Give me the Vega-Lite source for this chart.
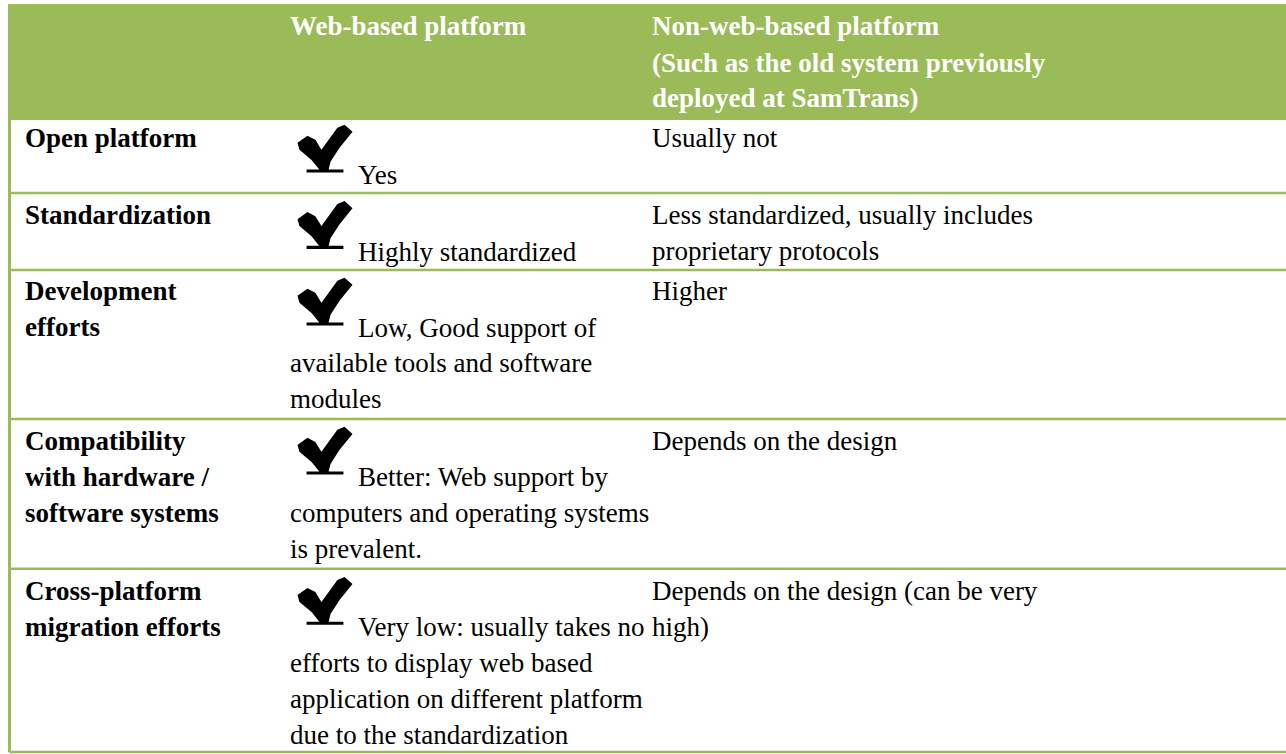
{
  "$schema": "https://vega.github.io/schema/vega-lite/v6.json",
  "width": 1286,
  "height": 754,
  "padding": 0,
  "autosize": {"type": "none"},
  "background": "white",
  "config": {"view": {"stroke": null}},
  "datasets": {
    "rows": [
      {"row": "header", "top": 0.11, "bottom": 3.33},
      {"row": "Open platform", "top": 3.33, "bottom": 5.36},
      {"row": "Standardization", "top": 5.36, "bottom": 7.5},
      {"row": "Development efforts", "top": 7.5, "bottom": 11.64},
      {"row": "Compatibility", "top": 11.64, "bottom": 15.8},
      {"row": "Cross-platform", "top": 15.8, "bottom": 20.89}
    ],
    "checks": [
      {"row": "Open platform", "line": 4.19},
      {"row": "Standardization", "line": 6.31},
      {"row": "Development efforts", "line": 8.44},
      {"row": "Compatibility", "line": 12.58},
      {"row": "Cross-platform", "line": 16.75}
    ],
    "cells": [
      {"row": "header", "col": 2, "line": 0.97, "style": "header", "text": "Web-based platform"},
      {"row": "header", "col": 3, "line": 0.97, "style": "header", "text": "Non-web-based platform"},
      {"row": "header", "col": 3, "line": 1.99, "style": "header", "text": "(Such as the old system previously"},
      {"row": "header", "col": 3, "line": 2.97, "style": "header", "text": "deployed at SamTrans)"},

      {"row": "Open platform", "col": 1, "line": 4.08, "style": "label", "text": "Open platform"},
      {"row": "Open platform", "col": 2, "line": 5.11, "style": "afterIcon", "text": "Yes"},
      {"row": "Open platform", "col": 3, "line": 4.08, "style": "body", "text": "Usually not"},

      {"row": "Standardization", "col": 1, "line": 6.22, "style": "label", "text": "Standardization"},
      {"row": "Standardization", "col": 2, "line": 7.25, "style": "afterIcon", "text": "Highly standardized"},
      {"row": "Standardization", "col": 3, "line": 6.22, "style": "body", "text": "Less standardized, usually includes"},
      {"row": "Standardization", "col": 3, "line": 7.22, "style": "body", "text": "proprietary protocols"},

      {"row": "Development efforts", "col": 1, "line": 8.33, "style": "label", "text": "Development"},
      {"row": "Development efforts", "col": 1, "line": 9.33, "style": "label", "text": "efforts"},
      {"row": "Development efforts", "col": 2, "line": 9.36, "style": "afterIcon", "text": "Low, Good support of"},
      {"row": "Development efforts", "col": 2, "line": 10.33, "style": "body", "text": "available tools and software"},
      {"row": "Development efforts", "col": 2, "line": 11.33, "style": "body", "text": "modules"},
      {"row": "Development efforts", "col": 3, "line": 8.33, "style": "body", "text": "Higher"},

      {"row": "Compatibility", "col": 1, "line": 12.5, "style": "label", "text": "Compatibility"},
      {"row": "Compatibility", "col": 1, "line": 13.5, "style": "label", "text": "with hardware /"},
      {"row": "Compatibility", "col": 1, "line": 14.5, "style": "label", "text": "software systems"},
      {"row": "Compatibility", "col": 2, "line": 13.5, "style": "afterIcon", "text": "Better: Web support by"},
      {"row": "Compatibility", "col": 2, "line": 14.5, "style": "body", "text": "computers and operating systems"},
      {"row": "Compatibility", "col": 2, "line": 15.5, "style": "body", "text": "is prevalent."},
      {"row": "Compatibility", "col": 3, "line": 12.5, "style": "body", "text": "Depends on the design"},

      {"row": "Cross-platform", "col": 1, "line": 16.67, "style": "label", "text": "Cross-platform"},
      {"row": "Cross-platform", "col": 1, "line": 17.67, "style": "label", "text": "migration efforts"},
      {"row": "Cross-platform", "col": 2, "line": 17.67, "style": "afterIcon", "text": "Very low: usually takes no"},
      {"row": "Cross-platform", "col": 2, "line": 18.67, "style": "body", "text": "efforts to display web based"},
      {"row": "Cross-platform", "col": 2, "line": 19.67, "style": "body", "text": "application on different platform"},
      {"row": "Cross-platform", "col": 2, "line": 20.67, "style": "body", "text": "due to the standardization"},
      {"row": "Cross-platform", "col": 3, "line": 16.67, "style": "body", "text": "Depends on the design (can be very"},
      {"row": "Cross-platform", "col": 3, "line": 17.67, "style": "body", "text": "high)"}
    ]
  },
  "layer": [
    {
      "data": {"name": "rows"},
      "transform": [{"filter": "datum.row === 'header'"}],
      "mark": {"type": "rect", "color": "#9BBB59"},
      "encoding": {
        "x": {"datum": 0, "type": "quantitative", "scale": {"domain": [0, 1, 2, 3, 4], "range": [9.5, 25, 290, 652, 1286], "nice": false, "zero": false}, "axis": null},
        "x2": {"datum": 4},
        "y": {"field": "top", "type": "quantitative", "scale": {"domain": [0, 20.944], "range": [0, 754], "nice": false, "zero": false}, "axis": null},
        "y2": {"field": "bottom"}
      }
    },
    {
      "data": {"name": "rows"},
      "transform": [{"filter": "datum.row !== 'header'"}],
      "mark": {"type": "rule", "color": "#9BBB59", "strokeWidth": 2.5},
      "encoding": {
        "x": {"datum": 0, "type": "quantitative", "scale": {"domain": [0, 1, 2, 3, 4], "range": [9.5, 25, 290, 652, 1286], "nice": false, "zero": false}, "axis": null},
        "x2": {"datum": 4},
        "y": {"field": "bottom", "type": "quantitative", "scale": {"domain": [0, 20.944], "range": [0, 754], "nice": false, "zero": false}, "axis": null}
      }
    },
    {
      "data": {"name": "rows"},
      "mark": {"type": "rule", "color": "#9BBB59", "strokeWidth": 3},
      "encoding": {
        "x": {"datum": 0, "type": "quantitative", "scale": {"domain": [0, 1, 2, 3, 4], "range": [9.5, 25, 290, 652, 1286], "nice": false, "zero": false}, "axis": null},
        "y": {"field": "top", "type": "quantitative", "scale": {"domain": [0, 20.944], "range": [0, 754], "nice": false, "zero": false}, "axis": null},
        "y2": {"field": "bottom"}
      }
    },
    {
      "data": {"name": "checks"},
      "mark": {
        "type": "point",
        "filled": true,
        "color": "black",
        "opacity": 1,
        "size": 3025,
        "xOffset": 35,
        "shape": "M-1,-0.29 L-0.64,-0.55 L-0.35,-0.4 L-0.13,-0.04 L0.45,-0.84 L0.71,-0.95 L1,-0.69 L0.53,-0.11 L0.2,0.4 L0.13,0.69 L-0.2,0.69 L-0.49,0.33 L-0.93,-0.04 Z M-0.67,0.68 L0.67,0.68 L0.67,0.79 L-0.67,0.79 Z"
      },
      "encoding": {
        "x": {"datum": 2, "type": "quantitative", "scale": {"domain": [0, 1, 2, 3, 4], "range": [9.5, 25, 290, 652, 1286], "nice": false, "zero": false}, "axis": null},
        "y": {"field": "line", "type": "quantitative", "scale": {"domain": [0, 20.944], "range": [0, 754], "nice": false, "zero": false}, "axis": null}
      }
    },
    {
      "data": {"name": "cells"},
      "transform": [{"filter": "datum.style === 'header'"}],
      "mark": {"type": "text", "align": "left", "baseline": "alphabetic", "font": "Liberation Serif", "fontSize": 27, "fontWeight": "bold", "color": "white"},
      "encoding": {
        "x": {"field": "col", "type": "quantitative", "scale": {"domain": [0, 1, 2, 3, 4], "range": [9.5, 25, 290, 652, 1286], "nice": false, "zero": false}, "axis": null},
        "y": {"field": "line", "type": "quantitative", "scale": {"domain": [0, 20.944], "range": [0, 754], "nice": false, "zero": false}, "axis": null},
        "text": {"field": "text"}
      }
    },
    {
      "data": {"name": "cells"},
      "transform": [{"filter": "datum.style === 'label'"}],
      "mark": {"type": "text", "align": "left", "baseline": "alphabetic", "font": "Liberation Serif", "fontSize": 27, "fontWeight": "bold", "color": "black"},
      "encoding": {
        "x": {"field": "col", "type": "quantitative", "scale": {"domain": [0, 1, 2, 3, 4], "range": [9.5, 25, 290, 652, 1286], "nice": false, "zero": false}, "axis": null},
        "y": {"field": "line", "type": "quantitative", "scale": {"domain": [0, 20.944], "range": [0, 754], "nice": false, "zero": false}, "axis": null},
        "text": {"field": "text"}
      }
    },
    {
      "data": {"name": "cells"},
      "transform": [{"filter": "datum.style === 'body'"}],
      "mark": {"type": "text", "align": "left", "baseline": "alphabetic", "font": "Liberation Serif", "fontSize": 27, "color": "black"},
      "encoding": {
        "x": {"field": "col", "type": "quantitative", "scale": {"domain": [0, 1, 2, 3, 4], "range": [9.5, 25, 290, 652, 1286], "nice": false, "zero": false}, "axis": null},
        "y": {"field": "line", "type": "quantitative", "scale": {"domain": [0, 20.944], "range": [0, 754], "nice": false, "zero": false}, "axis": null},
        "text": {"field": "text"}
      }
    },
    {
      "data": {"name": "cells"},
      "transform": [{"filter": "datum.style === 'afterIcon'"}],
      "mark": {"type": "text", "align": "left", "baseline": "alphabetic", "font": "Liberation Serif", "fontSize": 27, "color": "black", "dx": 68},
      "encoding": {
        "x": {"field": "col", "type": "quantitative", "scale": {"domain": [0, 1, 2, 3, 4], "range": [9.5, 25, 290, 652, 1286], "nice": false, "zero": false}, "axis": null},
        "y": {"field": "line", "type": "quantitative", "scale": {"domain": [0, 20.944], "range": [0, 754], "nice": false, "zero": false}, "axis": null},
        "text": {"field": "text"}
      }
    }
  ]
}
